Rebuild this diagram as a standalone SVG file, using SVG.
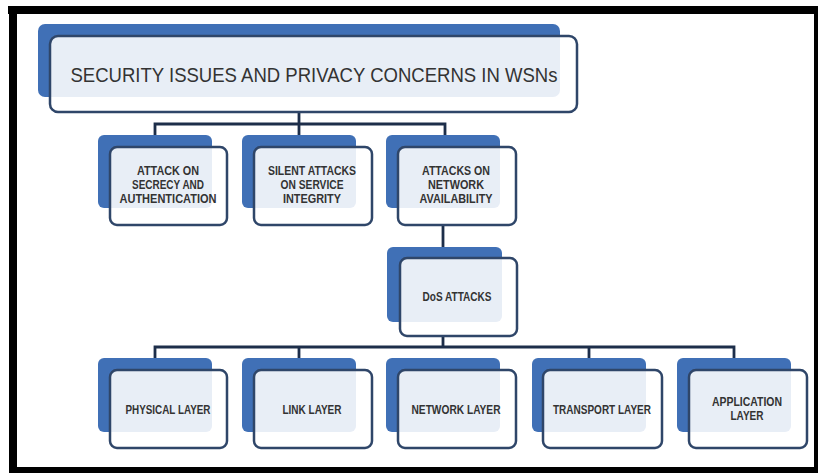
<svg xmlns="http://www.w3.org/2000/svg" width="818" height="473" viewBox="0 0 818 473">
<style>
.back{fill:#4070b6;}
.front{fill:#ffffff;fill-opacity:0.88;stroke:#2f4669;stroke-width:2.5;}
.conn{fill:none;stroke:#1d2e4a;stroke-width:2.8;}
.t{font-family:"Liberation Sans",Arial,sans-serif;font-weight:bold;font-size:12.5px;fill:#333333;text-anchor:middle;}
.tb{font-family:"Liberation Sans",Arial,sans-serif;font-weight:bold;font-size:12px;fill:#333333;text-anchor:middle;}
.title{font-family:"Liberation Sans",Arial,sans-serif;font-size:21px;fill:#333333;text-anchor:middle;}
</style>
<rect x="0" y="0" width="818" height="473" fill="#ffffff"/>
<g id="frame" fill="#000000">
<rect x="8" y="6" width="810" height="8"/>
<rect x="9" y="6" width="8" height="467"/>
<rect x="9" y="467" width="809" height="6"/>
<rect x="814" y="6" width="4" height="467"/>
</g>
<g id="connectors" class="conn">
<path d="M299 112 V124 M155 135 V124 H445 V135 M299 124 V135"/>
<path d="M443 225 V247"/>
<path d="M443 336 V347 M155 358 V347 H734 V358 M299 347 V358 M589 347 V358"/>
</g>
<g id="n-root">
<rect class="back" x="38" y="24" width="522" height="73" rx="7"/>
<rect class="front" x="50" y="36" width="527" height="76" rx="8"/>
<text class="title" x="314" y="82" textLength="487" lengthAdjust="spacingAndGlyphs">SECURITY ISSUES AND PRIVACY CONCERNS IN WSNs</text>
</g>
<g id="n-secrecy">
<rect class="back" x="98" y="135" width="114" height="73" rx="6"/>
<rect class="front" x="110" y="147" width="117" height="78" rx="7"/>
<text class="t" x="168" y="175" textLength="62" lengthAdjust="spacingAndGlyphs">ATTACK ON</text>
<text class="t" x="168" y="189" textLength="72" lengthAdjust="spacingAndGlyphs">SECRECY AND</text>
<text class="t" x="168" y="203" textLength="97" lengthAdjust="spacingAndGlyphs">AUTHENTICATION</text>
</g>
<g id="n-integrity">
<rect class="back" x="242" y="135" width="114" height="73" rx="6"/>
<rect class="front" x="254" y="147" width="118" height="78" rx="7"/>
<text class="t" x="312" y="175" textLength="88" lengthAdjust="spacingAndGlyphs">SILENT ATTACKS</text>
<text class="t" x="312" y="189" textLength="63" lengthAdjust="spacingAndGlyphs">ON SERVICE</text>
<text class="t" x="312" y="203" textLength="58" lengthAdjust="spacingAndGlyphs">INTEGRITY</text>
</g>
<g id="n-availability">
<rect class="back" x="386" y="135" width="114" height="73" rx="6"/>
<rect class="front" x="398" y="147" width="118" height="78" rx="7"/>
<text class="t" x="456" y="175" textLength="68" lengthAdjust="spacingAndGlyphs">ATTACKS ON</text>
<text class="t" x="456" y="189" textLength="56" lengthAdjust="spacingAndGlyphs">NETWORK</text>
<text class="t" x="456" y="203" textLength="73" lengthAdjust="spacingAndGlyphs">AVAILABILITY</text>
</g>
<g id="n-dos">
<rect class="back" x="387" y="247" width="115" height="75" rx="6"/>
<rect class="front" x="400" y="258" width="117" height="78" rx="7"/>
<text class="tb" x="457" y="301" textLength="69" lengthAdjust="spacingAndGlyphs">DoS ATTACKS</text>
</g>
<g id="n-physical">
<rect class="back" x="98" y="358" width="114" height="74" rx="6"/>
<rect class="front" x="110" y="370" width="117" height="78" rx="7"/>
<text class="tb" x="168" y="414" textLength="85" lengthAdjust="spacingAndGlyphs">PHYSICAL LAYER</text>
</g>
<g id="n-link">
<rect class="back" x="242" y="358" width="114" height="74" rx="6"/>
<rect class="front" x="254" y="370" width="118" height="78" rx="7"/>
<text class="tb" x="312" y="414" textLength="59" lengthAdjust="spacingAndGlyphs">LINK LAYER</text>
</g>
<g id="n-network">
<rect class="back" x="386" y="358" width="114" height="74" rx="6"/>
<rect class="front" x="398" y="370" width="118" height="78" rx="7"/>
<text class="tb" x="456" y="414" textLength="89" lengthAdjust="spacingAndGlyphs">NETWORK LAYER</text>
</g>
<g id="n-transport">
<rect class="back" x="532" y="358" width="114" height="74" rx="6"/>
<rect class="front" x="543" y="370" width="119" height="78" rx="7"/>
<text class="tb" x="602" y="414" textLength="98" lengthAdjust="spacingAndGlyphs">TRANSPORT LAYER</text>
</g>
<g id="n-application">
<rect class="back" x="677" y="358" width="114" height="74" rx="6"/>
<rect class="front" x="689" y="370" width="118" height="78" rx="7"/>
<text class="tb" x="747" y="406" textLength="70" lengthAdjust="spacingAndGlyphs">APPLICATION</text>
<text class="tb" x="747" y="420" textLength="33" lengthAdjust="spacingAndGlyphs">LAYER</text>
</g>
</svg>
